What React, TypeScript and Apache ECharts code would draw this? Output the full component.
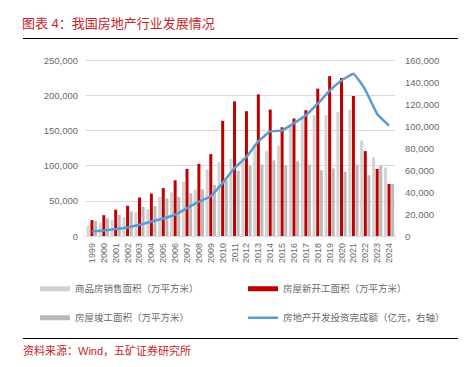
import React, { useEffect, useRef } from "react";
import * as echarts from "echarts";

const years = ["1999","2000","2001","2002","2003","2004","2005","2006","2007","2008","2009","2010","2011","2012","2013","2014","2015","2016","2017","2018","2019","2020","2021","2022","2023","2024"];
const salesArea = [14557,18637,22412,26808,33718,38232,55486,61857,77355,65970,94755,104765,109367,111304,130551,120649,128495,157349,169408,171654,171558,176086,179433,135837,111735,97385];
const newStartArea = [22579,29583,37394,42801,54708,60414,68064,79253,95402,102553,116422,163647,191237,177334,201208,179592,154454,166928,178654,209342,227154,224433,198895,120587,95376,73893];
const completedArea = [21411,25105,29867,34976,41464,42465,53417,55831,60607,66545,72677,78744,92620,99425,101435,107459,100039,106128,101486,93550,95942,91218,101412,86222,99831,73743];
const investment = [4103,4984,6344,7791,10154,13158,15909,19423,25289,31203,36242,48259,61797,71804,86013,95036,95979,102581,109799,120264,132194,141443,147602,132895,110913,100280];

const nameSales = "商品房销售面积（万平方米）";
const nameNew = "房屋新开工面积（万平方米）";
const nameDone = "房屋竣工面积（万平方米）";
const nameInv = "房地产开发投资完成额（亿元，右轴）";

const RED = "#C00000";
const LIGHT = "#D3D3D3";
const GREY = "#BABABA";
const BLUE = "#5B9BD5";
const TXT = "#6A6A6A";
const FONT = "'Liberation Sans', 'Noto Sans CJK SC', sans-serif";

export default function App() {
  const ref = useRef<HTMLDivElement>(null);
  useEffect(() => {
    document.body.style.margin = "0";
    const chart = echarts.init(ref.current!, undefined, { renderer: "svg" });
    const legendBase = (name: string, left: number, top: number, h: number) => ({
      data: [name],
      left,
      top,
      orient: "horizontal",
      icon: "rect",
      itemWidth: 30,
      itemHeight: h,
      itemGap: 5,
      selectedMode: false,
      padding: 0,
      textStyle: { fontSize: 9.5, color: TXT, fontFamily: FONT },
    });
    chart.setOption({
      animation: false,
      backgroundColor: "#ffffff",
      textStyle: { fontFamily: FONT },
      title: {
        text: "图表 4：我国房地产行业发展情况",
        left: 22,
        top: 17,
        padding: 0,
        textStyle: { fontSize: 13, color: "#CC2229", fontWeight: "normal", fontFamily: FONT },
      },
      graphic: [
        { type: "line", shape: { x1: 23, y1: 38.5, x2: 458, y2: 38.5 }, style: { stroke: "#000", lineWidth: 1 } },
        { type: "line", shape: { x1: 23, y1: 338.5, x2: 458, y2: 338.5 }, style: { stroke: "#000", lineWidth: 1 } },
        {
          type: "text",
          left: 23,
          top: 345,
          style: { text: "资料来源：Wind，五矿证券研究所", fill: "#CC2229", fontSize: 11, fontFamily: FONT },
        },
      ],
      legend: [
        legendBase(nameSales, 40, 284, 5),
        legendBase(nameNew, 248, 284, 5),
        legendBase(nameDone, 40, 313, 5),
        legendBase(nameInv, 248, 313, 2.5),
      ],
      grid: { left: 86, right: 69, top: 60, bottom: 131 },
      xAxis: {
        type: "category",
        data: years,
        axisLine: { show: true, lineStyle: { color: "#D9D9D9" } },
        axisTick: { show: false },
        axisLabel: { rotate: 90, fontSize: 9, color: TXT, margin: 7, interval: 0, fontFamily: FONT },
      },
      yAxis: [
        {
          type: "value",
          min: 0,
          max: 250000,
          interval: 50000,
          axisLine: { show: false },
          axisTick: { show: false },
          axisLabel: { fontSize: 9.5, color: TXT, margin: 8, fontFamily: FONT },
          splitLine: { lineStyle: { color: "#D9D9D9", width: 1 } },
        },
        {
          type: "value",
          min: 0,
          max: 160000,
          interval: 20000,
          axisLine: { show: false },
          axisTick: { show: false },
          axisLabel: { fontSize: 9.5, color: TXT, margin: 10, fontFamily: FONT },
          splitLine: { show: false },
        },
      ],
      series: [
        { name: nameSales, type: "bar", data: salesArea, barWidth: 3, barGap: "20%", itemStyle: { color: LIGHT } },
        { name: nameNew, type: "bar", data: newStartArea, barWidth: 3, barGap: "20%", itemStyle: { color: RED } },
        { name: nameDone, type: "bar", data: completedArea, barWidth: 3, barGap: "20%", itemStyle: { color: GREY } },
        {
          name: nameInv,
          type: "line",
          yAxisIndex: 1,
          data: investment,
          smooth: 0.1,
          symbol: "none",
          lineStyle: { color: BLUE, width: 2.5 },
          itemStyle: { color: BLUE },
        },
      ],
    });
    return () => chart.dispose();
  }, []);
  return <div ref={ref} style={{ width: 464, height: 367 }} />;
}
